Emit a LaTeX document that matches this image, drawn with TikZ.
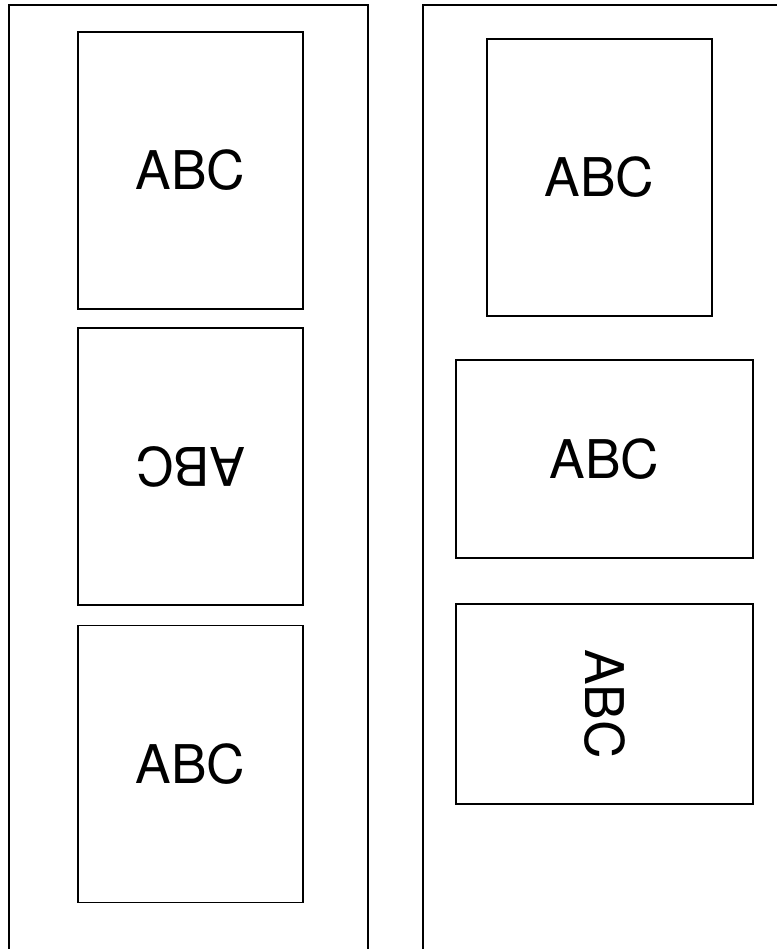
\documentclass[tikz,border=0pt]{standalone}
\usepackage{fontspec}
\setmainfont{TeX Gyre Heros}
\usepackage{tikz}
\tikzset{
  sheet/.style = {draw, line width=1pt, rectangle, inner sep=0pt, outer sep=0pt,
                  font=\fontsize{40}{42}\selectfont},
  tall/.style  = {sheet, minimum width=168.75pt, minimum height=207.75pt},
  wide/.style  = {sheet, minimum width=222.75pt, minimum height=148.5pt},
  frame/.style = {line width=1pt},
}

\begin{document}
\begin{tikzpicture}[x=0.75pt,y=-0.75pt]
\useasboundingbox (0,0) rectangle (776,949);
% left column
\draw[frame] (9,960) -- (9,5) -- (368,5) -- (368,960);
\node[tall] (L1) at (190.5,170.5) {ABC};
\node[tall,rotate=180] (L2) at (190.5,466.5) {ABC};
\node[tall] (L3) at (190.5,764) {ABC};
% right column
\draw[frame] (423,960) -- (423,5) -- (780,5);
\node[tall] (R1) at (599.5,177.5) {ABC};
\node[wide] (R2) at (604.5,459) {ABC};
\node[wide,rotate=-90,minimum width=150pt,minimum height=222.75pt] (R3) at (604.5,704) {ABC};
\end{tikzpicture}
\end{document}
